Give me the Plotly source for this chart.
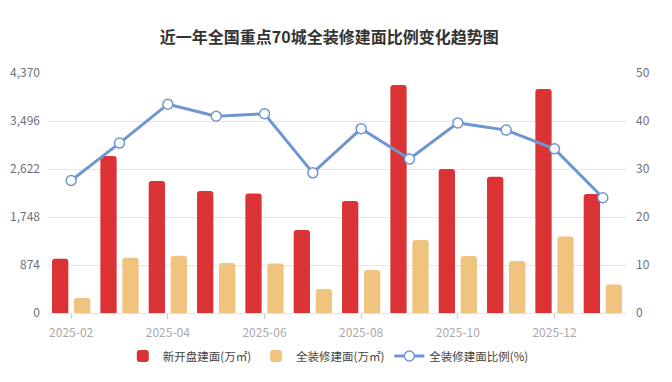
import plotly.graph_objects as go

months = ["2025-02", "2025-03", "2025-04", "2025-05", "2025-06", "2025-07",
          "2025-08", "2025-09", "2025-10", "2025-11", "2025-12", "2026-01"]
new_open_area = [989, 2859, 2403, 2221, 2178, 1511, 2039, 4151, 2622, 2482, 4079, 2167]
full_decor_area = [273, 1007, 1043, 910, 903, 437, 783, 1329, 1038, 947, 1395, 521]
full_decor_ratio = [27.6, 35.4, 43.5, 41.0, 41.5, 29.2, 38.4, 32.1, 39.6, 38.1, 34.2, 24.0]

left_ticks = [0, 874, 1748, 2622, 3496, 4370]
right_ticks = [0, 10, 20, 30, 40, 50]
shown_months = ["2025-02", "2025-04", "2025-06", "2025-08", "2025-10", "2025-12"]

FONT = "Noto Sans CJK SC"
RED = "#DB3236"
YEL = "#F0C47F"
BLUE = "#7096CF"
GRID = "#E0E6F1"

fig = go.Figure()
fig.add_trace(go.Bar(x=months, y=new_open_area, name="新开盘建面(万㎡)",
                     marker=dict(color=RED, line=dict(width=0)), yaxis="y"))
fig.add_trace(go.Bar(x=months, y=full_decor_area, name="全装修建面(万㎡)",
                     marker=dict(color=YEL, line=dict(width=0)), yaxis="y"))
fig.add_trace(go.Scatter(x=months, y=full_decor_ratio, name="全装修建面比例(%)",
                         mode="lines+markers", yaxis="y2",
                         line=dict(color=BLUE, width=3),
                         marker=dict(size=10, color="white",
                                     line=dict(color=BLUE, width=1.5))))

fig.update_layout(
    width=672, height=382,
    margin=dict(l=47, r=45, t=73, b=69, autoexpand=False),
    paper_bgcolor="white", plot_bgcolor="white",
    font=dict(family=FONT, size=12, color="#6E7079"),
    title=dict(text="<b>近一年全国重点70城全装修建面比例变化趋势图</b>",
               x=0.49, xanchor="center", y=0.903, yanchor="middle",
               font=dict(family=FONT, size=16, color="#333333")),
    barmode="group", bargap=0.09, bargroupgap=0.26, barcornerradius=3,
    showlegend=True,
    legend=dict(orientation="h", x=0.485, xanchor="center",
                yref="container", y=0.068, yanchor="middle",
                font=dict(family=FONT, size=11.5, color="#444444"),
                itemwidth=30, traceorder="normal"),
    xaxis=dict(type="category", range=[-0.5, 11.5],
               tickmode="array", tickvals=shown_months, ticktext=shown_months,
               ticks="outside", ticklen=5, tickcolor="#CCCCCC",
               showline=True, linecolor=GRID, linewidth=1, ticklabelstandoff=4,
               showgrid=False, tickfont=dict(color="#AAAAAA", size=12)),
    yaxis=dict(range=[0, 4370], tickmode="array", tickvals=left_ticks,
               tickformat=",", showgrid=True, gridcolor=GRID, gridwidth=1,
               zeroline=False, showline=False, ticks="", ticklabelstandoff=6,
               tickfont=dict(color="#6E7079", size=12)),
    yaxis2=dict(range=[0, 50], tickmode="array", tickvals=right_ticks,
                overlaying="y", side="right", showgrid=False, zeroline=False,
                showline=False, ticks="", ticklabelstandoff=8,
                tickfont=dict(color="#6E7079", size=12)),
)

fig.write_html("out.html", config={"displayModeBar": False},
               post_script="document.body.style.margin='0px';")
